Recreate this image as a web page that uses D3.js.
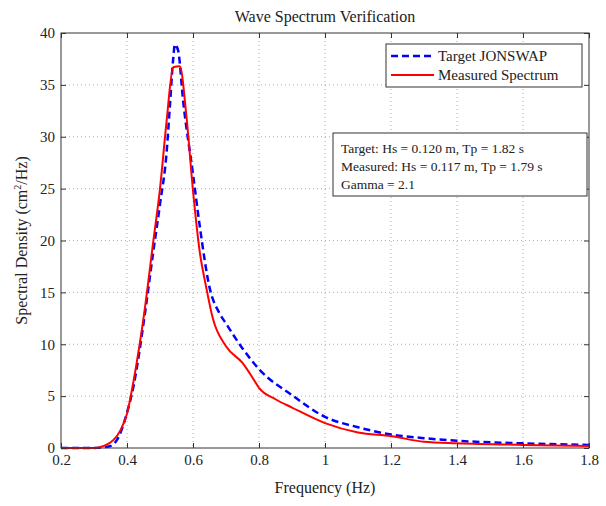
<!DOCTYPE html>
<html><head><meta charset="utf-8">
<script src="https://cdn.jsdelivr.net/npm/d3@7"></script>
<style>body{margin:0;background:#fff}text{font-family:"Liberation Serif","Times New Roman",serif;fill:#222}</style>
</head><body><svg id="c" width="606" height="506"></svg>
<script>
var xTicks = [0.2, 0.4, 0.6, 0.8, 1, 1.2, 1.4, 1.6, 1.8];
var yTicks = [0, 5, 10, 15, 20, 25, 30, 35, 40];
var targetF = [0.2, 0.3, 0.35, 0.37, 0.4, 0.42, 0.45, 0.48, 0.5, 0.52, 0.53, 0.54, 0.545, 0.555, 0.57, 0.6, 0.62, 0.65, 0.68, 0.7, 0.75, 0.8, 0.9, 1.0, 1.1, 1.2, 1.3, 1.4, 1.6, 1.8];
var targetS = [0, 0, 0.2, 0.8, 3.4, 6, 12, 19, 23.5, 28.5, 33, 37.5, 38.9, 38.3, 33.5, 26.4, 21.5, 15.5, 13, 12, 9.6, 7.6, 5.1, 3.0, 2.0, 1.3, 0.95, 0.7, 0.45, 0.3];
var measF = [0.2, 0.3, 0.33, 0.36, 0.38, 0.4, 0.42, 0.45, 0.48, 0.5, 0.52, 0.54, 0.56, 0.58, 0.6, 0.62, 0.64, 0.66, 0.7, 0.75, 0.78, 0.8, 0.85, 0.9, 1.0, 1.1, 1.2, 1.3, 1.4, 1.6, 1.8];
var measS = [0, 0, 0.2, 0.8, 1.7, 3.3, 6.5, 12.5, 20, 25, 31.5, 36.7, 36.8, 32, 24.8, 19, 15.5, 12.5, 9.8, 8.2, 6.8, 5.8, 4.7, 3.9, 2.4, 1.5, 1.15, 0.6, 0.45, 0.3, 0.2];

var svg = d3.select("#c");
var L = 61, R = 589, T = 33, B = 448;
var x = d3.scaleLinear().domain([0.2, 1.8]).range([L, R]);
var y = d3.scaleLinear().domain([0, 40]).range([B, T]);

var g = svg.append("g");
g.selectAll(".gx").data(xTicks.slice(1, -1)).enter().append("line")
  .attr("x1", d => x(d)).attr("x2", d => x(d)).attr("y1", T).attr("y2", B)
  .attr("stroke", "#999").attr("stroke-width", 0.8).attr("stroke-dasharray", "1,3");
g.selectAll(".gy").data(yTicks.slice(1, -1)).enter().append("line")
  .attr("y1", d => y(d)).attr("y2", d => y(d)).attr("x1", L).attr("x2", R)
  .attr("stroke", "#999").attr("stroke-width", 0.8).attr("stroke-dasharray", "1,3");

var line = d3.line().x(d => x(d[0])).y(d => y(d[1])).curve(d3.curveMonotoneX);
svg.append("path").datum(d3.zip(targetF, targetS)).attr("d", line)
  .attr("fill", "none").attr("stroke", "#0000ff").attr("stroke-width", 2.5).attr("stroke-dasharray", "7,4");
svg.append("path").datum(d3.zip(measF, measS)).attr("d", line)
  .attr("fill", "none").attr("stroke", "#ff0000").attr("stroke-width", 2);

var ax = svg.append("g").attr("transform", "translate(0," + B + ")")
  .call(d3.axisBottom(x).tickValues(xTicks).tickSizeInner(-5).tickSizeOuter(0).tickFormat(d3.format("~g")));
svg.append("g").attr("transform", "translate(0," + T + ")")
  .call(d3.axisTop(x).tickValues(xTicks).tickSizeInner(-5).tickSizeOuter(0).tickFormat(""));
var ay = svg.append("g").attr("transform", "translate(" + L + ",0)")
  .call(d3.axisLeft(y).tickValues(yTicks).tickSizeInner(-5).tickSizeOuter(0));
svg.append("g").attr("transform", "translate(" + R + ",0)")
  .call(d3.axisRight(y).tickValues(yTicks).tickSizeInner(-5).tickSizeOuter(0).tickFormat(""));
svg.selectAll(".tick text").attr("font-size", 15).attr("font-family", "Liberation Serif").attr("fill", "#222");
ax.selectAll(".tick text").attr("dy", "0.95em");
ay.selectAll(".tick text").attr("dx", "-0.2em");
svg.selectAll(".domain").remove();
svg.selectAll(".tick line").attr("stroke", "#333");
svg.append("rect").attr("x", L).attr("y", T).attr("width", R - L).attr("height", B - T)
  .attr("fill", "none").attr("stroke", "#333");

svg.append("text").attr("x", (L + R) / 2).attr("y", 22).attr("text-anchor", "middle").attr("font-size", 16).text("Wave Spectrum Verification");
svg.append("text").attr("x", (L + R) / 2).attr("y", 493).attr("text-anchor", "middle").attr("font-size", 16).text("Frequency (Hz)");
var yl = svg.append("text").attr("transform", "translate(27," + (T + B) / 2 + ") rotate(-90)").attr("text-anchor", "middle").attr("font-size", 16);
yl.append("tspan").text("Spectral Density (cm");
yl.append("tspan").attr("font-size", 10).attr("dy", -6).text("2");
yl.append("tspan").attr("dy", 6).text("/Hz)");

// legend
var lg = svg.append("g").attr("transform", "translate(386,44)");
lg.append("rect").attr("width", 196).attr("height", 43).attr("fill", "#fff").attr("stroke", "#333");
lg.append("line").attr("x1", 5).attr("x2", 48).attr("y1", 12).attr("y2", 12).attr("stroke", "#0000ff").attr("stroke-width", 2.5).attr("stroke-dasharray", "7,4");
lg.append("line").attr("x1", 5).attr("x2", 48).attr("y1", 31).attr("y2", 31).attr("stroke", "#ff0000").attr("stroke-width", 2);
lg.append("text").attr("x", 52).attr("y", 17).attr("font-size", 15).text("Target JONSWAP");
lg.append("text").attr("x", 52).attr("y", 36).attr("font-size", 15).text("Measured Spectrum");

var info = ["Target: Hs = 0.120 m, Tp = 1.82 s", "Measured: Hs = 0.117 m, Tp = 1.79 s", "Gamma = 2.1"];
var ib = svg.append("g").attr("transform", "translate(333,133)");
ib.append("rect").attr("width", 254).attr("height", 63).attr("fill", "#fff").attr("stroke", "#333");
ib.selectAll("text").data(info).enter().append("text").attr("x", 8).attr("y", (d, i) => 20 + i * 18).attr("font-size", 13.5).text(d => d);
</script></body></html>
